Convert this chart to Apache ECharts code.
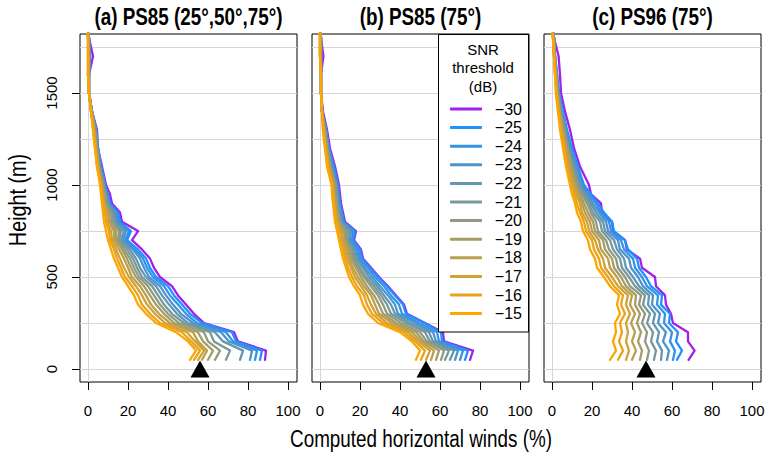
<!DOCTYPE html>
<html><head><meta charset="utf-8">
<script src="https://cdn.jsdelivr.net/npm/echarts@6/dist/echarts.min.js"></script>
<style>html,body{margin:0;padding:0;background:#fff}#chart{width:768px;height:454px}</style>
</head><body><div id="chart"></div>
<script>
// ---- data ----
const heights = [50,100,150,200,250,300,350,400,450,500,550,600,650,700,750,800,850,900,950,1000,1100,1200,1300,1400,1500,1600,1700,1800,1850];
const thresholds = ['\u221230','\u221225','\u221224','\u221223','\u221222','\u221221','\u221220','\u221219','\u221218','\u221217','\u221216','\u221215'];
const colors = ['#A020F0','#1E90FF','#3592E6','#4B94CC','#6296B3','#789899','#8F9B80','#A59D66','#BC9F4D','#D2A133','#E9A31A','#FFA500'];
const panelTitles = ['(a) PS85 (25\u00b0,50\u00b0,75\u00b0)','(b) PS85 (75\u00b0)','(c) PS96 (75\u00b0)'];
const xTicks = [0,20,40,60,80,100];
const yTicks = [0,500,1000,1500];
const gridHeights = [0,250,500,750,1000,1250,1500,1750];
const triangleX = [56,53,47];

// panel (a)
const A30 = [88.5,89,75,73,58,53,49,45,42,36,33,31,27,22,25,17,16,12,11,9,7,5,4.5,2,0.5,0.5,2.5,0.5,0];
const A25 = [86,87,74,72,57,51,47,43,40,34,31,29,25,19.5,21.5,16,15,11,10,8.5,6.5,5,4,2,0.5,0.5,1,0.5,0];
const A24 = [83.5,84.5,72.5,69,54.5,49,45,41,38,32.5,29.5,27.5,23.5,18.5,20.5,15,14.5,10.5,9.5,8.5,6.5,5,4,2,0.5,0.5,1,0.5,0];
const A23 = [81,82,70.5,66.5,52.5,46.5,42.5,39,36,30.5,28,26,22.5,17.5,19,14.5,13.5,10,9.5,8,6,5,4,2,0.5,0.5,1,0.5,0];
const A22 = [76,77.5,67.5,63.5,50,44.5,40.5,37,34,29,26,24,21,16.5,18,13.5,13,10,9,8,6,4.5,3.5,2,0.5,0.5,1,0,0];
const A21 = [69,71,63,61,48,42,38,35,32,27,24.5,22.5,19.5,15.5,16.5,13,12,9.5,8.5,7.5,5.5,4.5,3.5,2,0.5,0.5,0.5,0,0];
const A20 = [63.5,66,60,58,45.5,40,36,33,30,25.5,23,21,18,15,15.5,12,11.5,9,8.5,7.5,5.5,4.5,3.5,2,0.5,0.5,0.5,0,0];
const A19 = [60,62.5,57.5,55,43,38,34,31,28,24,21.5,19.5,17,14,14,11,10.5,8.5,8,7,5.5,4,3,1.5,0.5,0,0.5,0,0];
const A18 = [57,59.5,55,52.5,41,35.5,31.5,29,26,22,20,18,15.5,13,13,10.5,10,8,7.5,7,5,4,3,1.5,0.5,0,0.5,0,0];
const A17 = [55,58,53.5,49.5,38.5,33.5,29.5,27,24,20.5,18,16,14,12,11.5,9.5,9,8,7,6.5,5,4,3,1.5,0.5,0,0,0,0];
const A16 = [53,56,51.5,47,36,31,27,25,22,18.5,16.5,14.5,13,11,10.5,9,8.5,7.5,7,6.5,4.5,3.5,2.5,1.5,0.5,0,0,0,0];
const A15 = [51,54,50,44,34,29,25,23,20,17,15,13,11.5,10,9,8,7.5,7,6.5,6,4.5,3.5,2.5,1.5,0.5,0,0,0,0];

// panel (b)
const B30 = [75,76.5,62,61.5,52.5,43.5,42,38,34,29.5,25.5,21.5,20.5,17,18,12.5,11.5,10.5,10,9.5,7.5,5,3.5,1.5,0.5,0.5,1.7,0.5,0];
const B25 = [72.5,74,61,60.5,52,43,41.5,37.5,33.5,29,25,21,20,16.5,17.5,12,11,10,9.5,9,7,4.5,3,1,0.5,0.5,0.5,0.5,0];
const B24 = [70,71.5,59.5,58.5,49.5,41,39.5,35.5,32,27.5,24,20,19,16,16.5,11.5,10.5,9.5,9,8.5,6.5,4.5,3,1,0.5,0.5,0.5,0.5,0];
const B23 = [67.5,69,58,56.5,47.5,39,37.5,34,30,26,22.5,19,18,15,15.5,11,10,9.5,9,8.5,6,4,3,1,0.5,0.5,0.5,0.5,0];
const B22 = [65,67,56.5,54.5,45,37.5,35.5,32,28.5,24.5,21.5,18,17,14.5,15,10.5,10,9,8.5,8,6,4,2.5,1,0.5,0.5,0.5,0.5,0];
const B21 = [62.5,64.5,55,52.5,43,35.5,33.5,30.5,27,23,20,17,16,13.5,14,10,9.5,8.5,8,8,5.5,3.5,2.5,1,0.5,0.5,0.5,0.5,0];
const B20 = [60.5,62,53.5,50,40.5,33.5,31.5,29,25.5,22,19,16.5,15.5,13,13,10,9,8.5,8,7.5,5,3.5,2.5,1,0.5,0.5,0.5,0.5,0];
const B19 = [58,59.5,52,48,38,31.5,29.5,27,23.5,20.5,18,15.5,14.5,12.5,12,9.5,8.5,8,7.5,7,5,3.5,2,1,0.5,0.5,0,0,0];
const B18 = [55.5,57,50.5,46,36,29.5,27.5,25.5,22,19,16.5,14.5,13.5,11.5,11,9,8,7.5,7,7,4.5,3,2,1,0.5,0.5,0,0,0];
const B17 = [53,55,49,44,33.5,28,25.5,23.5,20.5,17.5,15.5,13.5,12.5,11,10.5,8.5,8,7,6.5,6.5,4,3,2,1,0.5,0.5,0,0,0];
const B16 = [50.5,52.5,47.5,42,31.5,26,23.5,22,18.5,16,14,12.5,11.5,10,9.5,8,7.5,7,6.5,6,4,2.5,1.5,1,0.5,0.5,0,0,0];
const B15 = [48,50,46,40,29,24,21.5,20,17,14.5,13,11.5,10.5,9.5,8.5,7.5,7,6.5,6,5.8,3.5,2.5,1.5,1,0.5,0.5,0,0,0];

// panel (c)
const C30 = [68.3,71.3,68,68,60.5,59.5,57,56.5,52,51.5,45,44,37.5,36.5,30.5,30,25,24.5,19.5,18.5,14,11,9,6.5,4.5,4,3.3,1,0.5];
const C25 = [62.5,65,62,63,58.5,59,54.5,55,49.5,47,43.5,42.5,38,36.5,31,30,26,23,19.5,16,13,10,7.5,5.5,3.5,2.5,1.5,1,0.5];
const C24 = [60.5,61.5,59,60,56,56.5,52.5,53,47.5,45,41.5,40.5,36,34.5,29.5,28.5,24.5,22,18.5,15.5,12.5,9.5,7,5,3.5,2.5,1.5,1,0.5];
const C23 = [57.5,58.5,55.5,57,53,54,50,50.5,45.5,43,39.5,38.5,34,33,28,27,23.5,20.5,17.5,14.5,12,9,7,5,3,2.5,1.5,1,0.5];
const C22 = [54.5,55,52.5,53.5,50.5,51.5,48,48.5,43.5,40.5,37,36,32.5,31,26.5,25.5,22,19.5,16.5,14,11,8.5,6.5,4.5,3,2,1.5,1,0.5];
const C21 = [51,52,49.5,50.5,47.5,49,45.5,46.5,41.5,38.5,35,34,30.5,29,25,24,20.5,18.5,15.5,13,10.5,8,6,4.5,3,2,1.5,1,0.5];
const C20 = [47.5,48.5,46.5,47.5,45,46.5,43.5,44.5,39,36.5,33,32,28.5,27,23,22,19.5,17.5,15,12.5,10,8,6,4,3,2,1.5,1,0.5];
const C19 = [44,45,43,44.5,42.5,44,41.5,42,37,34.5,31,30,26.5,25.5,21.5,20.5,18,16,14,12,9.5,7.5,5.5,4,2.5,2,1,0.5,0];
const C18 = [40,42,40,41.5,39.5,41.5,39,40,35,32.5,29,28,24.5,23.5,20,19,16.5,15,13,11,9,7,5,3.5,2.5,2,1,0.5,0];
const C17 = [37,38.5,37,38,37,39,37,38,33,30,26.5,25.5,23,21.5,18.5,17.5,15,14,12,10.5,8,6.5,4.5,3.5,2.5,1.5,1,0.5,0];
const C16 = [33,35.5,33.5,35,34,36.5,34.5,35.5,31,28,24.5,23.5,21,20,17,16,14,12.5,11,9.5,7.5,6,4.5,3,2,1.5,1,0.5,0];
const C15 = [29,32,30.5,32,31.5,34,32.5,33.5,29,26,22.5,21.5,19,18,15.5,14.5,12.5,11.5,10,9,7,5.5,4,3,2,1.5,1,0.5,0];

const panels = [
  [A30,A25,A24,A23,A22,A21,A20,A19,A18,A17,A16,A15],
  [B30,B25,B24,B23,B22,B21,B20,B19,B18,B17,B16,B15],
  [C30,C25,C24,C23,C22,C21,C20,C19,C18,C17,C16,C15]
];

// ---- layout ----
const FONT = '"Liberation Sans",Arial,Helvetica,sans-serif';
const gridLeft = [80, 312, 544];
const GW = 217, GT = 34, GH = 348;
const XMIN = -4, XMAX = 104.5, YMIN = -70.6, YMAX = 1820.7;

const grids = gridLeft.map(l => ({left: l, top: GT, width: GW, height: GH, show: true, borderColor: '#000', borderWidth: 1, backgroundColor: 'transparent'}));
const xAxes = gridLeft.map((l, i) => ({
  type: 'value', gridIndex: i, min: XMIN, max: XMAX, position: 'bottom',
  axisLine: {show: false, onZero: false},
  axisTick: {show: true, inside: false, length: 8, customValues: xTicks, lineStyle: {color: '#000', width: 1}},
  axisLabel: {show: true, customValues: xTicks, margin: 21, fontSize: 15, fontFamily: FONT, color: '#000', formatter: v => String(v)},
  splitLine: {show: false}
}));
const yAxes = gridLeft.map((l, i) => ({
  type: 'value', gridIndex: i, min: YMIN, max: YMAX, show: i === 0, position: 'left',
  axisLine: {show: false, onZero: false},
  axisTick: {show: i === 0, inside: false, length: 8, customValues: yTicks, lineStyle: {color: '#000', width: 1}},
  axisLabel: {show: i === 0, customValues: yTicks, rotate: 90, margin: 21, fontSize: 15, fontFamily: FONT, color: '#000', formatter: v => String(v)},
  splitLine: {show: false}
}));

const series = [];
panels.forEach((vals, p) => {
  vals.forEach((arr, k) => {
    const s = {
      type: 'line', name: thresholds[k], xAxisIndex: p, yAxisIndex: p,
      data: heights.map((h, j) => [arr[j], h]),
      showSymbol: false, symbol: 'none', clip: true, silent: true,
      itemStyle: {color: colors[k]},
      lineStyle: {color: colors[k], width: 2.3, cap: 'round', join: 'round'},
      z: 3, animation: false
    };
    if (k === 0) {
      s.markLine = {
        silent: true, symbol: 'none', z: 1, animation: false,
        label: {show: false},
        lineStyle: {color: '#d6d6d6', width: 1, type: 'solid'},
        data: gridHeights.map(v => ({yAxis: v})).concat([{xAxis: 0}])
      };
    }
    series.push(s);
  });
  series.push({
    type: 'scatter', name: 'site', xAxisIndex: p, yAxisIndex: p,
    data: [[triangleX[p], 0]], symbol: 'triangle', symbolSize: [19, 17],
    itemStyle: {color: '#000', opacity: 1}, z: 6, silent: true, animation: false
  });
});

const titleTexts = panelTitles.map((t, i) => ({
  type: 'text', z: 11, x: gridLeft[i] + GW / 2, y: 17, scaleX: 0.82,
  style: {text: t, fill: '#000', font: 'bold 23px ' + FONT, textAlign: 'center', textVerticalAlign: 'middle'}
}));

const option = {
  animation: false,
  backgroundColor: '#fff',
  grid: grids, xAxis: xAxes, yAxis: yAxes, series: series,
  legend: {
    data: thresholds, orient: 'vertical', left: 450, top: 101, padding: 0,
    itemWidth: 32, itemHeight: 3, itemGap: 2.6, icon: 'roundRect', selectedMode: false, z: 20,
    formatter: '{a|{name}}',
    textStyle: {color: '#000', fontFamily: FONT, fontSize: 16, lineHeight: 16,
      rich: {a: {width: 35, align: 'right', fontFamily: FONT, fontSize: 16, color: '#000', lineHeight: 16}}}
  },
  graphic: titleTexts.concat([
    {type: 'rect', z: 10, shape: {x: 438.5, y: 34.5, width: 90, height: 297.5}, style: {fill: '#fff', stroke: '#000', lineWidth: 1}},
    {type: 'text', z: 11, x: 483, y: 49, style: {text: 'SNR', fill: '#000', font: '15px ' + FONT, textAlign: 'center', textVerticalAlign: 'middle'}},
    {type: 'text', z: 11, x: 483, y: 67.5, style: {text: 'threshold', fill: '#000', font: '15px ' + FONT, textAlign: 'center', textVerticalAlign: 'middle'}},
    {type: 'text', z: 11, x: 483, y: 86, style: {text: '(dB)', fill: '#000', font: '15px ' + FONT, textAlign: 'center', textVerticalAlign: 'middle'}},
    {type: 'text', z: 11, x: 421, y: 439, scaleX: 0.82, style: {text: 'Computed horizontal winds (%)', fill: '#000', font: '23px ' + FONT, textAlign: 'center', textVerticalAlign: 'middle'}},
    {type: 'text', z: 11, x: 18, y: 200, rotation: Math.PI / 2, scaleX: 0.86, style: {text: 'Height (m)', fill: '#000', font: '23px ' + FONT, textAlign: 'center', textVerticalAlign: 'middle'}}
  ])
};

const chart = echarts.init(document.getElementById('chart'), null, {renderer: 'svg', width: 768, height: 454});
chart.setOption(option);
</script>
</body></html>
